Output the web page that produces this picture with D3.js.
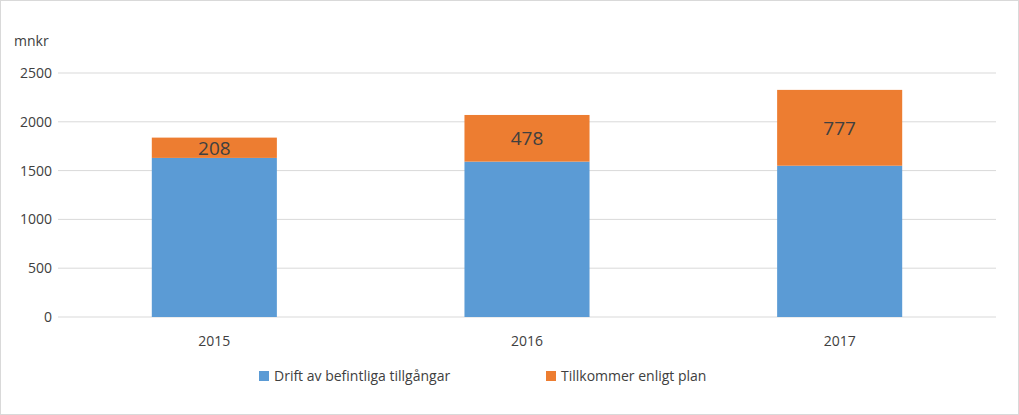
<!DOCTYPE html><html><head><meta charset="utf-8"><script src="https://cdn.jsdelivr.net/npm/d3@7"></script>
<style>body{margin:0;background:#fff}svg{font-family:"Open Sans","Liberation Sans",sans-serif}</style></head><body><script>
const categories=["2015","2016","2017"];
const drift=[1630,1592,1550];
const tillkommer=[208,478,777];
const yTicks=[0,500,1000,1500,2000,2500];
const seriesNames=["Drift av befintliga tillgångar","Tillkommer enligt plan"];
const colors=["#5B9BD5","#ED7D31"];
const W=1019,H=415;
const svg=d3.select("body").append("svg").attr("width",W).attr("height",H);
svg.append("rect").attr("x",0.5).attr("y",0.5).attr("width",W-1).attr("height",H-1).attr("fill","#fff").attr("stroke","#d9d9d9");
const x=d3.scaleBand().domain(categories).range([58,996]).paddingInner(0.6).paddingOuter(0.3);
const y=d3.scaleLinear().domain([0,2500]).range([317,73]);
const g=svg.append("g");
yTicks.forEach(t=>{g.append("line").attr("x1",58).attr("x2",996).attr("y1",y(t)).attr("y2",y(t)).attr("stroke","#d9d9d9");
g.append("text").attr("x",52).attr("y",y(t)+5).attr("text-anchor","end").attr("font-size",14).attr("fill","#404040").text(t);});
categories.forEach((c,i)=>{
g.append("rect").attr("x",x(c)).attr("width",x.bandwidth()).attr("y",y(drift[i])).attr("height",y(0)-y(drift[i])).attr("fill",colors[0]);
const tot=drift[i]+tillkommer[i];
g.append("rect").attr("x",x(c)).attr("width",x.bandwidth()).attr("y",y(tot)).attr("height",y(drift[i])-y(tot)).attr("fill",colors[1]);
g.append("text").attr("x",x(c)+x.bandwidth()/2).attr("y",(y(tot)+y(drift[i]))/2+7).attr("text-anchor","middle").attr("font-size",19).attr("fill","#404040").text(tillkommer[i]);
g.append("text").attr("x",x(c)+x.bandwidth()/2).attr("y",346).attr("text-anchor","middle").attr("font-size",14).attr("fill","#404040").text(c);
});
svg.append("text").attr("x",14).attr("y",46).attr("font-size",14).attr("fill","#404040").text("mnkr");
const lx=[259,546];
seriesNames.forEach((s,i)=>{svg.append("rect").attr("x",lx[i]).attr("y",371).attr("width",10).attr("height",10).attr("fill",colors[i]);
svg.append("text").attr("x",lx[i]+15).attr("y",381).attr("font-size",14).attr("fill","#404040").text(s);});
</script></body></html>
